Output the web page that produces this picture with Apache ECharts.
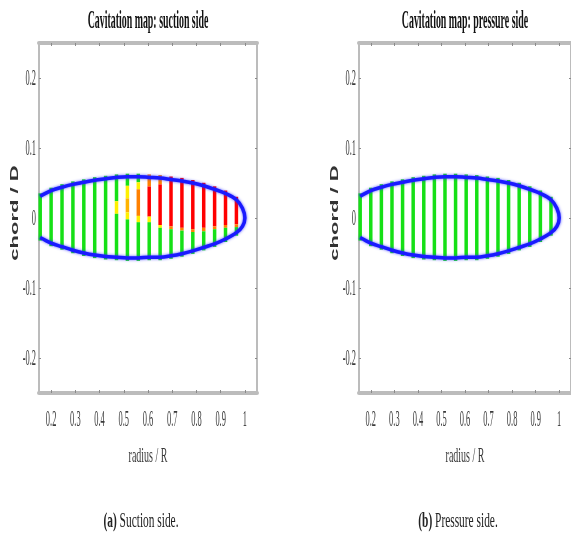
<!DOCTYPE html>
<html><head><meta charset="utf-8">
<script src="https://cdn.jsdelivr.net/npm/echarts@6/dist/echarts.min.js"></script>
<style>html,body{margin:0;padding:0;background:#fff}#c{width:571px;height:533px;filter:blur(0.5px)}</style>
</head><body><div id="c"></div>
<script>
// ---- chart data ----
const titles = ['Cavitation map: suction side', 'Cavitation map: pressure side'];
const captionTags = ['(a)', '(b)'];
const captionTexts = [' Suction side.', ' Pressure side.'];
const xName = 'radius / R';
const yName = 'chord / D';
const xTicks = [0.2, 0.3, 0.4, 0.5, 0.6, 0.7, 0.8, 0.9, 1];
const yTicks = [-0.2, -0.1, 0, 0.1, 0.2];
const stations = [0.155, 0.2, 0.245, 0.29, 0.335, 0.38, 0.425, 0.47, 0.515, 0.56, 0.605, 0.65, 0.695, 0.74, 0.785, 0.83, 0.875, 0.92, 0.965];
const upperEdge = [0.031, 0.039, 0.044, 0.048, 0.051, 0.054, 0.056, 0.058, 0.059, 0.059, 0.058, 0.057, 0.055, 0.053, 0.050, 0.046, 0.041, 0.035, 0.026];
const lowerEdge = [-0.028, -0.036, -0.041, -0.046, -0.050, -0.053, -0.055, -0.056, -0.057, -0.057, -0.056, -0.056, -0.054, -0.051, -0.047, -0.042, -0.037, -0.030, -0.021];
const tipR = [0.99, 1.0, 0.99];
const tipChord = [0.014, 0.0, -0.012];
// cavitation levels: 0 none, 1 yellow, 2 amber, 3 orange, 4 red
const levelColors = ['#16e016', '#fff000', '#ffb400', '#ff8000', '#ff0000'];
const suctionBreaks = [
  [], [], [], [], [], [], [],
  [0.024, 0.006],
  [0.046, 0.028, 0.008, -0.002],
  [0.051, 0.041, 0.003, -0.006],
  [0.045, 0.002, -0.006],
  [0.048, -0.010, -0.014],
  [-0.012, -0.016],
  [-0.014, -0.018],
  [-0.016, -0.020],
  [-0.014, -0.019],
  [-0.012, -0.016],
  [-0.010, -0.014],
  [-0.009, -0.013]
];
const suctionLevels = [
  [0], [0], [0], [0], [0], [0], [0],
  [0, 1, 0],
  [0, 1, 2, 1, 0],
  [0, 1, 3, 1, 0],
  [3, 4, 1, 0],
  [3, 4, 1, 0],
  [4, 3, 0],
  [4, 3, 0],
  [4, 3, 0],
  [4, 3, 0],
  [4, 3, 0],
  [4, 3, 0],
  [4, 3, 0]
];
const pressureBreaks = [[], [], [], [], [], [], [], [], [], [], [], [], [], [], [], [], [], [], []];
const pressureLevels = [[0], [0], [0], [0], [0], [0], [0], [0], [0], [0], [0], [0], [0], [0], [0], [0], [0], [0], [0]];

// ---- build ----
function segments(breaks, levels) {
  const out = [];
  stations.forEach((r, i) => {
    const edges = [upperEdge[i]].concat(breaks[i], [lowerEdge[i]]);
    const lv = levels[i];
    for (let j = 0; j < lv.length; j++) {
      out.push([r, edges[j], edges[j + 1], lv[j], j === 0 ? 1 : 0, j === lv.length - 1 ? 1 : 0]);
    }
  });
  return out;
}
function outline() {
  const pts = stations.map((r, i) => [r, upperEdge[i]]);
  tipR.forEach((r, i) => pts.push([r, tipChord[i]]));
  for (let i = stations.length - 1; i >= 0; i--) pts.push([stations[i], lowerEdge[i]]);
  return pts;
}
function renderBar(params, api) {
  const x = api.value(0);
  const p0 = api.coord([x, api.value(1)]);
  const p1 = api.coord([x, api.value(2)]);
  const ext = 3;
  const top = p0[1] - (api.value(4) ? ext : 0);
  const bottom = p1[1] + (api.value(5) ? ext : 0);
  return {
    type: 'rect',
    shape: { x: p0[0] - 1.75, y: top, width: 3.5, height: bottom - top },
    style: { fill: levelColors[api.value(3)] }
  };
}

const XMIN = 0.15, XMAX = 1.05, YMIN = -0.25, YMAX = 0.25;
const borderColor = '#bcbcbc';
function xAx(grid, pos) {
  return {
    type: 'value', gridIndex: grid, position: pos, min: XMIN, max: XMAX,
    axisLine: { show: true, onZero: false, lineStyle: { color: borderColor, width: 4 } },
    axisTick: { show: true, inside: true, length: 3, customValues: xTicks, lineStyle: { color: '#8a8a8a', width: 1 } },
    axisLabel: { show: false }, splitLine: { show: false }
  };
}
function yAx(grid, pos) {
  return {
    type: 'value', gridIndex: grid, position: pos, min: YMIN, max: YMAX,
    axisLine: { show: true, onZero: false, lineStyle: { color: borderColor, width: 2 } },
    axisTick: { show: true, inside: true, length: 2, customValues: yTicks, lineStyle: { color: '#8a8a8a', width: 1 } },
    axisLabel: { show: false }, splitLine: { show: false }
  };
}

const chart = echarts.init(document.getElementById('c'), null, { renderer: 'canvas' });
const barSets = [segments(suctionBreaks, suctionLevels), segments(pressureBreaks, pressureLevels)];
const series = [];
[0, 1].forEach(g => {
  series.push({
    type: 'custom', xAxisIndex: g * 2, yAxisIndex: g * 2, renderItem: renderBar,
    data: barSets[g], encode: { x: 0, y: [1, 2] }, z: 2, silent: true
  });
  series.push({
    type: 'line', xAxisIndex: g * 2, yAxisIndex: g * 2, data: outline(), smooth: 0.35,
    symbol: 'none', z: 3, silent: true,
    lineStyle: { color: '#1a1aff', width: 3.5, shadowBlur: 3, shadowColor: 'rgba(40,40,255,0.8)' }
  });
});

chart.setOption({
  backgroundColor: '#ffffff',
  animation: false,
  grid: [
    { left: 39, top: 43, width: 218, height: 350 },
    { left: 359, top: 43, width: 218, height: 350 }
  ],
  xAxis: [xAx(0, 'bottom'), xAx(0, 'top'), xAx(1, 'bottom'), xAx(1, 'top')],
  yAxis: [yAx(0, 'left'), yAx(0, 'right'), yAx(1, 'left'), yAx(1, 'right')],
  series: series
});

// ---- condensed text (the reference is horizontally squeezed) ----
const SERIF = '"Liberation Serif", "Times New Roman", serif';
function txt(x, y, s, o) {
  return {
    type: 'text', x: x, y: y, rotation: o.rot || 0, scaleX: o.sx || 1, scaleY: o.sy || 1, silent: true, z: 10,
    style: {
      text: s, fontFamily: o.ff || SERIF, fontSize: o.fs || 20, fontWeight: o.fw || 'normal',
      fill: o.fill || '#333', align: o.align || 'center', verticalAlign: 'middle', rich: o.rich
    }
  };
}
const graphics = [];
[0, 1].forEach(g => {
  const gx = g * 2;
  const left = chart.convertToPixel({ xAxisIndex: gx }, XMIN);
  const right = chart.convertToPixel({ xAxisIndex: gx }, XMAX);
  const cx = (left + right) / 2;
  graphics.push(txt(cx, 21, titles[g], { fs: 22, fw: 'bold', sx: 0.45, sy: 1.15, fill: '#111' }));
  xTicks.forEach(v => {
    const px = chart.convertToPixel({ xAxisIndex: gx }, v);
    graphics.push(txt(px, 420, String(v), { fs: 20, sx: 0.42, sy: 1.12, fill: '#3a3a3a' }));
  });
  yTicks.forEach(v => {
    const py = chart.convertToPixel({ yAxisIndex: gx }, v);
    graphics.push(txt(left - 3, py + 1, String(v), { fs: 20, sx: 0.42, sy: 1.12, fill: '#3a3a3a', align: 'right' }));
  });
  graphics.push(txt(cx, 456, xName, { fs: 20, sx: 0.5, sy: 1.1, fill: '#3a3a3a' }));
  graphics.push(txt(left - 24, 213, yName, {
    ff: '"Liberation Sans", Arial, sans-serif', fs: 11, fw: 'bold', sx: 2.0, sy: 1.05, rot: Math.PI / 2, fill: '#333'
  }));
  graphics.push(txt(cx - 7, 521, '{b|' + captionTags[g] + '}' + captionTexts[g], {
    fs: 20, sx: 0.57, sy: 1.1, fill: '#222',
    rich: { b: { fontFamily: SERIF, fontSize: 20, fontWeight: 'bold', fill: '#222' } }
  }));
});
chart.setOption({ graphic: graphics });
</script>
</body></html>
